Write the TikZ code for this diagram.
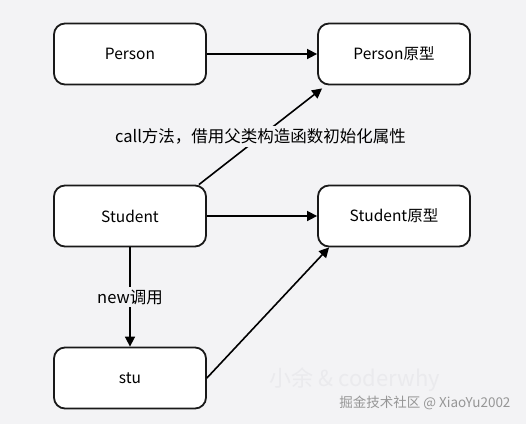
\documentclass[tikz,border=0pt]{standalone}
\usepackage{fontspec}
\setmainfont{Noto Sans CJK SC}
\usetikzlibrary{arrows.meta}
\definecolor{bg}{RGB}{243,243,245}
\definecolor{wm}{RGB}{234,234,237}
\definecolor{wmtext}{RGB}{150,150,150}
\begin{document}
\begin{tikzpicture}[x=1pt,y=-1pt,
  box/.style={draw=black!90, line width=1.8pt, rounded corners=11pt, fill=white,
    minimum width=152pt, minimum height=61pt, inner sep=0pt, font=\fontsize{15.5}{18}\selectfont},
  conn/.style={line width=1.6pt, -{Triangle[length=10pt,width=10pt]}},
  lbl/.style={fill=bg, inner sep=3pt, font=\fontsize{16.5}{19}\selectfont}]
\fill[bg] (0,0) rectangle (526,424);
\useasboundingbox (0,0) rectangle (526,424);
\node[box] (person) at (130,54) {Person};
\node[box] (pproto) at (394,54) {Person原型};
\node[box] (stud) at (130,216) {Student};
\node[box] (sproto) at (394,216) {Student原型};
\node[box] (stu) at (130,378) {stu};
\node[text=wm, font=\fontsize{22}{24}\selectfont] (wm1) at (355,380) {小余 \& coderwhy};
\node[text=wmtext, font=\fontsize{13.5}{16}\selectfont, anchor=east] (wm2) at (514,403) {掘金技术社区 @ XiaoYu2002};
\draw[conn] (person) -- (pproto);
\draw[conn] (stud) -- (sproto);
\draw[conn] ([xshift=-8pt]stud.north east) -- node[lbl, midway] {call方法，借用父类构造函数初始化属性} ([shift={(5pt,-3pt)}]pproto.south west);
\draw[conn] (stud) -- node[lbl, midway] {new调用} (stu);
\draw[conn] (stu.east) -- ([xshift=12pt]sproto.south west);
\end{tikzpicture}
\end{document}
